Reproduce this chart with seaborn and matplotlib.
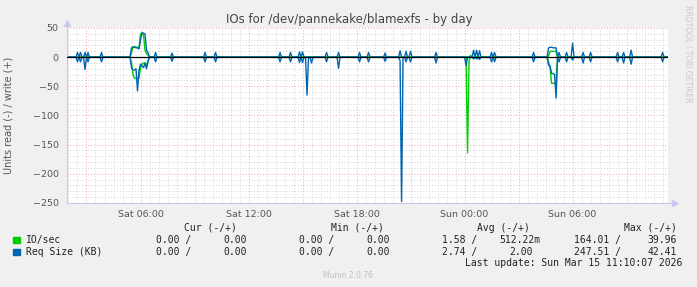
import numpy as np
import pandas as pd
import matplotlib
matplotlib.use("Agg")
import matplotlib.pyplot as plt
import seaborn as sns

# ---------------- data (hours since Sat 00:00, 5-minute samples) ----------------
t_start, t_end = 1.917, 35.30

# single short spikes of Req Size (KB): read drawn negative, write positive
req_spike_hours = [2.47, 2.69, 2.90, 3.08, 3.86, 6.81, 7.75, 9.58, 10.14, 13.75, 14.31,
                   14.81, 15.03, 15.53, 16.36, 16.97, 18.14, 18.64, 19.58, 20.42, 20.79,
                   20.97, 22.42, 24.12, 24.47, 24.64, 24.80, 25.47, 25.64, 27.81, 29.25,
                   29.64, 30.03, 30.58, 30.97, 32.53, 32.81, 33.25, 34.97]
req_spike_read = [8, 8, 21, 8, 8, 8, 7, 8, 8, 8, 8,
                  9, 9, 10, 8, 19, 8, 8, 7, 6, 8,
                  8, 10, 14, 3, 3, 4, 8, 8, 8, 8,
                  8, 5, 10, 8, 8, 10, 12, 8]
req_spike_write = [8, 8, 8, 8, 8, 8, 7, 8, 8, 8, 8,
                   9, 9, 0, 8, 8, 8, 8, 7, 11, 10,
                   10, 8, 0, 12, 12, 11, 8, 8, 8, 8,
                   8, 24, 8, 8, 8, 8, 12, 8]

# large single read spikes
req_big_hours = [15.25, 20.50]
req_big_read = [65, 247.51]
io_big_hours = [24.17, 24.25, 24.33]
io_big_read = [164.01, 5, 0]
io_big_write = [0, 0, 3]

# burst around Sat 06:00
burst1_hours = [5.417, 5.500, 5.583, 5.667, 5.750, 5.833, 5.917, 6.000, 6.083, 6.167,
                6.250, 6.333, 6.417, 6.500]
burst1_req_write = [0, 16, 17, 17, 16, 16, 14, 30, 42.41, 41, 40, 12, 8, 0]
burst1_req_read = [0, 18, 22, 22, 20, 58, 22, 12, 15, 18, 10, 20, 8, 0]
burst1_io_write = [0, 8, 18, 18, 17, 17, 16, 39.96, 39, 38, 12, 6, 4, 0]
burst1_io_read = [0, 10, 30, 36, 36, 36, 36, 18, 12, 10, 10, 14, 6, 0]

# burst around Sun 05:00
burst2_hours = [28.583, 28.667, 28.750, 28.833, 28.917, 29.000, 29.083, 29.167]
burst2_req_write = [0, 16, 17, 17, 16, 16, 16, 0]
burst2_req_read = [0, 14, 15, 28, 28, 30, 70, 0]
burst2_io_write = [0, 2, 10, 10, 10, 10, 10, 0]
burst2_io_read = [0, 8, 18, 45, 45, 45, 42, 0]

# x tick labels
tick_hours = [6, 12, 18, 24, 30]
tick_labels = ["Sat 06:00", "Sat 12:00", "Sat 18:00", "Sun 00:00", "Sun 06:00"]

# legend values
legend_names = ["IO/sec", "Req Size (KB)"]
legend_colors = ["#00CC00", "#0066B3"]
cur_vals = [("0.00", "0.00"), ("0.00", "0.00")]
min_vals = [("0.00", "0.00"), ("0.00", "0.00")]
avg_vals = [("1.58", "512.22m"), ("2.74", "2.00")]
max_vals = [("164.01", "39.96"), ("247.51", "42.41")]

# ---------------- build series on a 5-min grid ----------------
idx0 = int(np.floor(t_start * 12))
idx1 = int(np.ceil(t_end * 12))
grid = np.arange(idx0, idx1 + 1)
hours = grid / 12.0
n = len(grid)
series = {k: np.zeros(n) for k in ["io_read", "io_write", "req_read", "req_write"]}


def put(name, hs, vals):
    for h, v in zip(hs, vals):
        i = int(round(h * 12)) - idx0
        if 0 <= i < n:
            series[name][i] = v


put("req_read", req_spike_hours, req_spike_read)
put("req_write", req_spike_hours, req_spike_write)
put("req_read", req_big_hours, req_big_read)
put("io_read", io_big_hours, io_big_read)
put("io_write", io_big_hours, io_big_write)
put("req_write", burst1_hours, burst1_req_write)
put("req_read", burst1_hours, burst1_req_read)
put("io_write", burst1_hours, burst1_io_write)
put("io_read", burst1_hours, burst1_io_read)
put("req_write", burst2_hours, burst2_req_write)
put("req_read", burst2_hours, burst2_req_read)
put("io_write", burst2_hours, burst2_io_write)
put("io_read", burst2_hours, burst2_io_read)

frames = []
for name in ["io_read", "io_write", "req_read", "req_write"]:
    sign = -1 if name.endswith("read") else 1
    frames.append(pd.DataFrame({"hour": hours, "value": sign * series[name], "line": name}))
df = pd.concat(frames, ignore_index=True)

# ---------------- figure ----------------
sns.set_theme(style="white")
plt.rcParams["font.family"] = ["DejaVu Sans"]
W, H = 697, 287
fig = plt.figure(figsize=(W / 100, H / 100), dpi=100, facecolor="#F0F0F0")
L, R, T, B = 67, 668, 28, 203
ax = fig.add_axes([L / W, 1 - B / H, (R - L) / W, (B - T) / H])
ax.set_facecolor("white")
ax.set_xlim(t_start, t_end)
ax.set_ylim(-250, 50)

# grid
for yv in range(-250, 51, 10):
    if yv % 50 == 0:
        ax.axhline(yv, color="#F2A8A8", lw=0.7, ls=(0, (1, 2)), zorder=1)
    else:
        ax.axhline(yv, color="#D4D4D4", lw=0.7, ls=(0, (1, 2)), zorder=0.5)
k0 = int(np.ceil(t_start * 2))
k1 = int(np.floor(t_end * 2))
for k in range(k0, k1 + 1):
    xv = k / 2
    if k % 6 == 0:
        ax.axvline(xv, color="#F2A8A8", lw=0.7, ls=(0, (1, 2)), zorder=1)
    else:
        ax.axvline(xv, color="#D4D4D4", lw=0.7, ls=(0, (1, 2)), zorder=0.5)

palette = {"io_read": "#00CC00", "io_write": "#00CC00",
           "req_read": "#0066B3", "req_write": "#0066B3"}
sns.lineplot(data=df, x="hour", y="value", hue="line", palette=palette,
             hue_order=["io_read", "io_write", "req_read", "req_write"],
             estimator=None, sort=False, legend=False, lw=1.0, ax=ax, zorder=2)
ax.axhline(0, color="black", lw=0.9, zorder=3)

ax.set_xlabel("")
ax.set_ylabel("")
for s in ["top", "right"]:
    ax.spines[s].set_visible(False)
for s in ["left", "bottom"]:
    ax.spines[s].set_color("#C8C8F0")
    ax.spines[s].set_linewidth(0.8)
# arrows
ax.plot([1.0, 1.012], [0, 0], color="#C8C8F0", lw=0.8, transform=ax.transAxes, clip_on=False)
ax.plot([1.012], [0], marker=">", ms=4, color="#C8C8F0", transform=ax.transAxes, clip_on=False)
ax.plot([0, 0], [1.0, 1.03], color="#C8C8F0", lw=0.8, transform=ax.transAxes, clip_on=False)
ax.plot([0], [1.03], marker="^", ms=4, color="#C8C8F0", transform=ax.transAxes, clip_on=False)

ax.set_xticks(tick_hours)
ax.set_xticklabels(tick_labels)
ax.set_yticks(range(-250, 51, 50))
ax.tick_params(axis="both", labelsize=6.8, length=2, width=0.6)
ax.tick_params(axis="x", colors="#E08080", labelcolor="#555555", pad=3)
ax.tick_params(axis="y", colors="#E08080", labelcolor="#555555", pad=4)

# texts
def ftext(x, y, s, **kw):
    fig.text(x / W, 1 - y / H, s, **kw)

ftext(349, 19, "IOs for /dev/pannekake/blamexfs - by day", ha="center", va="center",
      fontsize=8.5, color="#444444")
ftext(9, 115, "Units read (-) / write (+)", ha="center", va="center", rotation=90,
      fontsize=7, color="#555555")
ftext(688, 5, "RRDTOOL / TOBI OETIKER", ha="center", va="top", rotation=270,
      fontsize=5.5, color="#C8C8C8")

mono = dict(family="DejaVu Sans Mono", fontsize=7, color="#222222", va="center")
hy = 228
ftext(237, hy, "Cur (-/+)", ha="right", **mono)
ftext(383.6, hy, "Min (-/+)", ha="right", **mono)
ftext(529.8, hy, "Avg (-/+)", ha="right", **mono)
ftext(676.4, hy, "Max (-/+)", ha="right", **mono)
rows_y = [240, 252]
for i in range(2):
    y = rows_y[i]
    fig.patches.append(plt.Rectangle(((13.5) / W, 1 - (y + 3) / H), 6 / W, 6 / H,
                                     transform=fig.transFigure, color=legend_colors[i]))
    ftext(25.8, y, legend_names[i], ha="left", **mono)
    ftext(191, y, cur_vals[i][0] + " /", ha="right", **mono)
    ftext(246.7, y, cur_vals[i][1], ha="right", **mono)
    ftext(334, y, min_vals[i][0] + " /", ha="right", **mono)
    ftext(389.8, y, min_vals[i][1], ha="right", **mono)
    ftext(477, y, avg_vals[i][0] + " /", ha="right", **mono)
    a2 = avg_vals[i][1]
    ftext(540 if a2.endswith("m") else 532.4, y, a2, ha="right", **mono)
    ftext(621, y, max_vals[i][0] + " /", ha="right", **mono)
    ftext(676.4, y, max_vals[i][1], ha="right", **mono)
ftext(682, 263.5, "Last update: Sun Mar 15 11:10:07 2026", ha="right", **mono)
ftext(348, 276, "Munin 2.0.76", ha="center", va="center", fontsize=5.5, color="#C0C0C0")

fig.savefig("out.png", dpi=100, facecolor=fig.get_facecolor())
